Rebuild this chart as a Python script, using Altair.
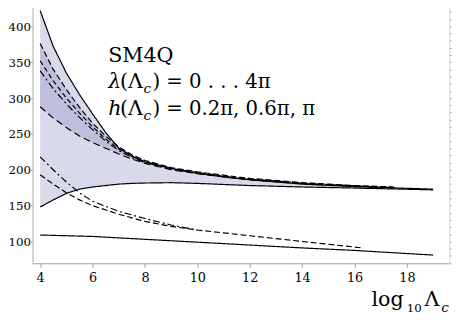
import altair as alt
import pandas as pd

# ---- data ----
x_main = [4, 4.5, 5, 5.5, 6, 6.5, 7, 7.5, 8, 9, 10, 11, 12, 14, 16, 19]
upper_solid = [422, 372, 335, 305, 278, 252, 230, 219, 211, 202, 195, 190, 186, 180, 176.5, 173]
lower_solid = [148, 158, 167, 173, 176, 178, 180, 181, 181.5, 182, 181, 179.5, 178, 176, 174.5, 172]

x_band = [4, 4.5, 5, 5.5, 6, 6.5, 7, 7.5, 8, 9, 10, 12, 14, 16, 17.5]
dash1 = [376, 340, 312, 287, 265, 247, 232, 221, 213, 203, 197, 188, 182, 178, 176]
dash2 = [352, 324, 300, 279, 260, 243, 229, 219, 211, 202, 196, 187, 181.5, 177.5, 175.5]
dash3 = [338, 313, 292, 273, 256, 240, 227, 217, 210, 201, 195.5, 186.5, 181, 177, 175]
dash4 = [288, 272, 259, 247, 238, 230, 222, 215, 209, 200, 194.5, 186, 180.5, 177, 175]

x_low1 = [4, 4.5, 5, 5.5, 6, 7, 8, 9, 10]
dashdot_low = [218, 200, 183, 168, 156, 142, 132, 123, 116]
x_low2 = [4, 4.5, 5, 5.5, 6, 7, 8, 9, 10, 12, 14, 16.3]
dash_low = [193, 180, 168, 158, 150, 138, 128, 121, 116, 108, 100, 91]

x_bottom = [4, 6, 8, 10, 12, 14, 16, 19]
bottom_solid = [109, 107, 103, 99, 95, 91, 87.5, 81]

x_ticks = [4, 6, 8, 10, 12, 14, 16, 18]
y_ticks = [100, 150, 200, 250, 300, 350, 400]

# ---- tables ----
df_main = pd.DataFrame({"x": x_main, "lo": lower_solid, "hi": upper_solid})
df_band = pd.DataFrame({"x": x_band, "lo": dash4, "hi": dash1})

rows = []
def add(name, xs, ys):
    for a, b in zip(xs, ys):
        rows.append({"x": a, "y": b, "s": name})
add("U", x_main, upper_solid)
add("L", x_main, lower_solid)
add("D1", x_band, dash1)
add("D2", x_band, dash2)
add("D3", x_band, dash3)
add("D4", x_band, dash4)
add("E1", x_low1, dashdot_low)
add("E2", x_low2, dash_low)
add("B", x_bottom, bottom_solid)
df_lines = pd.DataFrame(rows)

xdom = [3.71, 19.61]
ydom = [69.6, 430]
xs = alt.Scale(domain=xdom, nice=False, zero=False)
ys = alt.Scale(domain=ydom, nice=False, zero=False)

FONT = "DejaVu Serif"

xaxis = alt.Axis(values=x_ticks, title=None, labelFont=FONT, labelFontSize=13,
                 labelColor="black", tickColor="#999", tickSize=4, domainColor="#aaa",
                 grid=False, labelPadding=5)
yaxis = alt.Axis(values=y_ticks, title=None, labelFont=FONT, labelFontSize=12,
                 labelColor="black", tickColor="#999", tickSize=2, domainColor="#bbb",
                 grid=False, labelPadding=0)

light = alt.Chart(df_main).mark_area(color="#d9d9ec", opacity=1).encode(
    x=alt.X("x:Q", scale=xs, axis=xaxis),
    y=alt.Y("lo:Q", scale=ys, axis=yaxis),
    y2="hi:Q",
)
dark = alt.Chart(df_band).mark_area(color="#bebedd", opacity=1).encode(
    x=alt.X("x:Q", scale=xs),
    y=alt.Y("lo:Q", scale=ys, axis=None),
    y2="hi:Q",
)

series = ["U", "L", "D1", "D2", "D3", "D4", "E1", "E2", "B"]
dashes = [[1, 0], [1, 0], [6, 3], [5, 3], [7, 3, 2, 3], [7, 4], [7, 3, 2, 3], [6, 3], [1, 0]]
lines = alt.Chart(df_lines).mark_line(color="black", strokeWidth=1.2).encode(
    x=alt.X("x:Q", scale=xs),
    y=alt.Y("y:Q", scale=ys, axis=None),
    detail="s:N",
    strokeDash=alt.StrokeDash("s:N", scale=alt.Scale(domain=series, range=dashes), legend=None),
)

# right frame with minor ticks
minor_y = [70 + 10 * i for i in range(37)]
frame_right = alt.Chart(pd.DataFrame({"y": [100]})).mark_point(opacity=0).encode(
    y=alt.Y("y:Q", scale=ys, axis=alt.Axis(orient="right", values=minor_y, labels=False, title=None,
                                            tickColor="#999", tickSize=2, domainColor="#ddd", grid=False)),
)

def txt(s, x, y, size=21, style="normal"):
    return alt.Chart(pd.DataFrame({"t": [s]})).mark_text(
        align="left", baseline="alphabetic", font=FONT, fontSize=size,
        fontStyle=style, color="black"
    ).encode(text="t:N", x=alt.value(x), y=alt.value(y))

texts = [
    txt("SM4Q", 77, 58),
    txt("λ", 77, 85, style="italic"),
    txt("(Λ", 89, 85),
    txt("c", 113, 90, size=14, style="italic"),
    txt(") = 0 . . . 4π", 122, 85, size=20),
    txt("h", 77, 112, style="italic"),
    txt("(Λ", 89, 112),
    txt("c", 113, 117, size=14, style="italic"),
    txt(") = 0.2π, 0.6π, π", 122, 112, size=20),
    txt("log", 345, 307),
    txt("10", 381, 313, size=12),
    txt("Λ", 399, 307),
    txt("c", 416, 313, size=14, style="italic"),
]

chart = alt.layer(light, dark, lines, frame_right, *texts).resolve_axis(
    y="independent"
).properties(
    width=424, height=263,
    padding={"left": 25, "top": -6, "right": 6, "bottom": 59},
    autosize=alt.AutoSizeParams(type="none"),
).configure_view(stroke=None).configure(background="white")

chart.save("out.html", embed_options={"renderer": "svg", "actions": False})
